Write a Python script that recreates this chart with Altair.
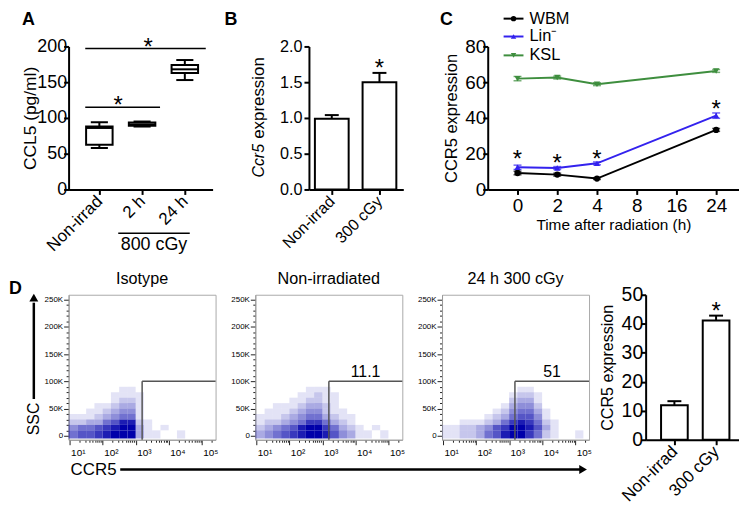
import json
import altair as alt
import pandas as pd

FONT = "Liberation Sans"

# ---------------- Panel A : CCL5 box plots ----------------
a_cats = ["Non-irrad", "2 h", "24 h"]
a_min = [58, 88, 153]
a_q1 = [62.5, 89, 163]
a_med = [86, 91, 168]
a_q3 = [88, 93.5, 174]
a_max = [94, 95, 181]
a_sig_start = [-0.33, -0.33]
a_sig_end = [1.42, 2.49]
a_sig_y = [115, 197]
a_star_x = [0.44, 1.14]
a_star_y = [126, 207]
a_group_label = "800 cGy"

# ---------------- Panel B : Ccr5 expression ----------------
b_cats = ["Non-irrad", "300 cGy"]
b_mean = [0.99, 1.50]
b_sem = [0.05, 0.13]
b_star_x = [1]
b_star_y = [1.78]

# ---------------- Panel C : CCR5 time course ----------------
c_time_labels = ["0", "2", "4", "8", "16", "24"]
c_time_idx = [0, 1, 2, 5]
c_series = ["WBM", "Lin⁻", "KSL"]
c_wbm = [9.2, 8.3, 6.1, 33.3]
c_wbm_err = [1.0, 0.8, 0.5, 0.8]
c_lin = [12.4, 12.0, 14.6, 41.3]
c_lin_err = [1.2, 0.8, 0.8, 1.5]
c_ksl = [62.0, 62.6, 58.9, 66.3]
c_ksl_err = [1.2, 0.8, 0.8, 0.8]
c_star_x = [0, 1, 2, 5]
c_star_y = [20.3, 18.0, 20.3, 48.1]
c_colors = ["#000000", "#3322ee", "#3e8e3e"]
c_shapes = ["circle", "triangle-up", "triangle-down"]

# ---------------- Panel D : flow plots (density read per cell, rows 90-100K ... 0-10K,
#                  columns 0.25-decade bins from 10^1) ----------------
flow_titles = ["Isotype", "Non-irradiated", "24 h 300 cGy"]
flow_gate = [1570, 1570, 1500]
flow_gate_label = ["", "11.1", "51"]
flow_iso = [
    "000000000000000000",
    "000000110000000000",
    "000001111000000000",
    "000001221000000000",
    "000112331000000000",
    "001123441000000000",
    "111234551000000000",
    "223356882100000000",
    "455678993101000000",
    "566789993110010000",
]
flow_non = [
    "000000000000000000",
    "000000111000000000",
    "000001121100000000",
    "000011221100000000",
    "001112332100000000",
    "011123442110000000",
    "111234553211000000",
    "122345775321000000",
    "234568997532101000",
    "345678998643110100",
]
flow_irr = [
    "000000000000000000",
    "000000000110000000",
    "000000001221000000",
    "000000002331000000",
    "000000013442000000",
    "000000124553100000",
    "000001235664100000",
    "001112357875210000",
    "112234679986310000",
    "112235689975210010",
]
flow_density = [flow_iso, flow_non, flow_irr]
flow_x_ticks = [m * 10 ** k for k in range(1, 6) for m in range(1, 10) if m * 10 ** k <= 200000]
flow_y_ticks = list(range(0, 250001, 10000))

# ---------------- Panel D right : CCR5 bars ----------------
d_cats = ["Non-irrad", "300 cGy"]
d_mean = [11.9, 41.1]
d_sem = [1.4, 1.7]
d_star_x = [1]
d_star_y = [46.3]

one = pd.DataFrame({"k": [0]})


def axis(**kw):
    base = dict(domainColor="black", domainWidth=2, tickColor="black", tickWidth=2, tickSize=5,
                labelFont=FONT, titleFont=FONT, labelColor="black", titleColor="black",
                titleFontWeight="normal", grid=False, labelOverlap=False, labelFlush=False)
    base.update(kw)
    return alt.Axis(**base)


def note(text, x, y, size=16, **kw):
    return alt.Chart(one).mark_text(text=text, font=FONT, fontSize=size, color="black", **kw).encode(
        x=alt.value(x), y=alt.value(y))


def letter(t, x, y):
    return note(t, x, y, 18, fontWeight="bold", align="left", baseline="top")


def pline(x1, x2, y, w=1.5):
    return alt.Chart(one).mark_rule(color="black", strokeWidth=w).encode(
        x=alt.value(x1), x2=alt.value(x2), y=alt.value(y))


def anchor(x, y):
    # invisible layout anchor (defines the block's outer edge)
    return alt.Chart(one).mark_point(size=1, filled=True, strokeWidth=0, opacity=0).encode(
        x=alt.value(x), y=alt.value(y))


# ================= Panel A =================
dfA = pd.DataFrame({"idx": list(range(len(a_cats))), "lo": a_min, "q1": a_q1,
                    "med": a_med, "q3": a_q3, "hi": a_max})
xsA = alt.Scale(domain=[-0.72, 2.65], nice=False, zero=False)
ysA = alt.Scale(domain=[0, 200], nice=False)
axAx = axis(values=[0, 1, 2], labelExpr=f"{json.dumps(a_cats)}[datum.value]", labelAngle=-45,
            labelAlign="right", labelBaseline="middle", labelFontSize=17, labelPadding=4, title=None)
axAy = axis(values=[0, 50, 100, 150, 200], labelFontSize=18, labelPadding=-3,
            title="CCL5 (pg/ml)", titleFontSize=17.5, titleX=-29)


def XA(f):
    return alt.X(f"{f}:Q", scale=xsA, axis=axAx)


def YA(f):
    return alt.Y(f"{f}:Q", scale=ysA, axis=axAy)


baseA = alt.Chart(dfA).transform_calculate(
    bl="datum.idx-0.31", br="datum.idx+0.31", cl="datum.idx-0.2", cr="datum.idx+0.2")
whisk = baseA.mark_rule(color="black", strokeWidth=2).encode(x=XA("idx"), y=YA("lo"), y2="hi:Q")
capLo = baseA.mark_rule(color="black", strokeWidth=2).encode(x=XA("cl"), x2="cr:Q", y=YA("lo"))
capHi = baseA.mark_rule(color="black", strokeWidth=2).encode(x=XA("cl"), x2="cr:Q", y=YA("hi"))
boxA = baseA.mark_rect(fill="white", stroke="black", strokeWidth=2).encode(
    x=XA("bl"), x2="br:Q", y=YA("q1"), y2="q3:Q")
medA = baseA.mark_rule(color="black", strokeWidth=2).encode(x=XA("bl"), x2="br:Q", y=YA("med"))
sigA = alt.Chart(pd.DataFrame({"s": a_sig_start, "e": a_sig_end, "y": a_sig_y})).mark_rule(
    color="black", strokeWidth=1.5).encode(x=XA("s"), x2="e:Q", y=YA("y"))
starA = alt.Chart(pd.DataFrame({"x": a_star_x, "y": a_star_y})).mark_text(
    text="*", font=FONT, fontSize=24, color="black", baseline="alphabetic", dy=14).encode(
    x=XA("x"), y=YA("y"))
panelA = alt.layer(
    whisk, capLo, capHi, boxA, medA, sigA, starA,
    letter("A", -47, -36),
    pline(50, 122, 188),
    note(a_group_label, 86, 191, 18, baseline="top"),
    anchor(-47, -36), anchor(-47, 221),
).properties(width=145, height=144)

# ================= Panel B =================
dfB = pd.DataFrame({"idx": list(range(len(b_cats))), "mean": b_mean, "sem": b_sem})
xsB = alt.Scale(domain=[-0.479, 1.5], nice=False, zero=False)
ysB = alt.Scale(domain=[0, 2], nice=False)
axBx = axis(values=[0, 1], labelExpr=f"{json.dumps(b_cats)}[datum.value]", labelAngle=-45,
            labelAlign="right", labelBaseline="middle", labelFontSize=16, labelPadding=4, title=None)
axBy = axis(values=[0, 0.5, 1, 1.5, 2], format=".1f", labelFontSize=16.3, labelPadding=2, title=None)


def XB(f):
    return alt.X(f"{f}:Q", scale=xsB, axis=axBx)


def YB(f):
    return alt.Y(f"{f}:Q", scale=ysB, axis=axBy)


baseB = alt.Chart(dfB).transform_calculate(
    l="datum.idx-0.354", r="datum.idx+0.354", cl="datum.idx-0.146", cr="datum.idx+0.146",
    top="datum.mean+datum.sem", zero="0")
panelB = alt.layer(
    baseB.mark_rule(color="black", strokeWidth=2).encode(x=XB("idx"), y=YB("mean"), y2="top:Q"),
    baseB.mark_rule(color="black", strokeWidth=2).encode(x=XB("cl"), x2="cr:Q", y=YB("top")),
    baseB.mark_rect(fill="white", stroke="black", strokeWidth=2).encode(
        x=XB("l"), x2="r:Q", y=YB("zero"), y2="mean:Q"),
    alt.Chart(pd.DataFrame({"x": b_star_x, "y": b_star_y})).mark_text(
        text="*", font=FONT, fontSize=24, color="black", baseline="alphabetic", dy=14).encode(
        x=XB("x"), y=YB("y")),
    note("Ccr5", -50, 132, 16, angle=270, align="left", baseline="middle", fontStyle="italic"),
    note("expression", -50, 93, 17, angle=270, align="left", baseline="middle"),
    letter("B", -85, -36),
).properties(width=95, height=144)

# ================= Panel C =================
rows = []
for name, vals, errs in zip(c_series, [c_wbm, c_lin, c_ksl], [c_wbm_err, c_lin_err, c_ksl_err]):
    for i, v, e in zip(c_time_idx, vals, errs):
        rows.append({"series": name, "idx": i, "val": v, "err": e})
dfC = pd.DataFrame(rows)
xsC = alt.Scale(domain=[-0.75, 5.575], nice=False, zero=False)
ysC = alt.Scale(domain=[0, 80], nice=False)
axCx = axis(values=list(range(len(c_time_labels))), labelExpr=f"{json.dumps(c_time_labels)}[datum.value]",
            labelFontSize=19, labelPadding=2, title="Time after radiation (h)", titleFontSize=15.5,
            titlePadding=2)
axCy = axis(values=[0, 20, 40, 60, 80], labelFontSize=19, labelPadding=-3,
            title="CCR5 expression", titleFontSize=16.6, titleX=-28)


def XC(f):
    return alt.X(f"{f}:Q", scale=xsC, axis=axCx)


def YC(f):
    return alt.Y(f"{f}:Q", scale=ysC, axis=axCy)


colC = alt.Color("series:N", scale=alt.Scale(domain=c_series, range=c_colors), legend=None)
shpC = alt.Shape("series:N", scale=alt.Scale(domain=c_series, range=c_shapes), legend=None)
baseC = alt.Chart(dfC).transform_calculate(lo="datum.val-datum.err", hi="datum.val+datum.err")
layersC = [
    baseC.mark_line(strokeWidth=2).encode(x=XC("idx"), y=YC("val"), color=colC),
    baseC.mark_rule(strokeWidth=1.5).encode(x=XC("idx"), y=YC("lo"), y2="hi:Q", color=colC),
    baseC.mark_tick(orient="horizontal", size=8, thickness=1.5).encode(x=XC("idx"), y=YC("hi"), color=colC),
    baseC.mark_tick(orient="horizontal", size=8, thickness=1.5).encode(x=XC("idx"), y=YC("lo"), color=colC),
    baseC.mark_point(filled=True, size=40, opacity=1).encode(x=XC("idx"), y=YC("val"), color=colC, shape=shpC),
    alt.Chart(pd.DataFrame({"x": c_star_x, "y": c_star_y})).mark_text(
        text="*", font=FONT, fontSize=24, color="black", baseline="alphabetic", dy=14).encode(
        x=XC("x"), y=YC("y")),
    letter("C", -48, -36),
]
c_leg_y = [-28, -10, 9]
for i, (name, col, shp) in enumerate(zip(c_series, c_colors, c_shapes)):
    yy = c_leg_y[i]
    layersC.append(alt.Chart(one).mark_rule(color=col, strokeWidth=2).encode(
        x=alt.value(16), x2=alt.value(36), y=alt.value(yy)))
    layersC.append(alt.Chart(one).mark_point(shape=shp, filled=True, color=col, size=30, opacity=1).encode(
        x=alt.value(26), y=alt.value(yy)))
    layersC.append(note(name, 42, yy, 16.5, align="left", baseline="middle"))
panelC = alt.layer(*layersC).properties(width=253, height=144)

# ================= Panel D flow plots =================
flow_x_dom = [9.3, 263000]
flow_y_dom = [-7300, 259100]
sup = {10: "10¹", 100: "10²", 1000: "10³", 10000: "10⁴", 100000: "10⁵"}
x_label_expr = "".join(f"datum.value=={k}?'{v}':" for k, v in sup.items()) + "''"
axFx = alt.Axis(values=flow_x_ticks, labelExpr=x_label_expr,
                tickSize={"condition": {"test": "indexof([10,100,1000,10000,100000], datum.value) >= 0",
                                        "value": 5}, "value": 2.5},
                tickColor="#222222", tickWidth=1, domainColor="#999999", domainWidth=1,
                labelFont=FONT, labelFontSize=10, labelColor="black", labelAlign="left", labelOffset=1,
                labelPadding=3, title=None, grid=False, labelOverlap=False, labelFlush=False)
axFy = alt.Axis(values=flow_y_ticks,
                labelExpr="datum.value % 50000 == 0 ? (datum.value == 0 ? '0' : (datum.value/1000) + 'K') : ''",
                tickSize={"condition": {"test": "datum.value % 50000 == 0", "value": 5}, "value": 2.5},
                tickColor="#222222", tickWidth=1, domainColor="#999999", domainWidth=1,
                labelFont=FONT, labelFontSize=8, labelColor="black", labelPadding=1,
                title=None, grid=False, labelOverlap=False, labelFlush=False)


def XF(f):
    return alt.X(f"{f}:Q", scale=alt.Scale(type="log", domain=flow_x_dom, nice=False), axis=axFx)


def YF(f):
    return alt.Y(f"{f}:Q", scale=alt.Scale(domain=flow_y_dom, nice=False, zero=False), axis=axFy)


def flow_panel(k, extra=()):
    cells = []
    grid = flow_density[k]
    nrow = len(grid)
    for r, s in enumerate(grid):
        ylo = (nrow - 1 - r) * 10000
        for b, ch in enumerate(s):
            d = int(ch)
            if d:
                cells.append({
                    "x0": flow_x_dom[0] if b == 0 else 10 ** (1 + 0.25 * b),
                    "x1": 10 ** (1.25 + 0.25 * b),
                    "y0": ylo if ylo > 0 else -5000,
                    "y1": ylo + 10000,
                    "d": d,
                })
    dfc = pd.DataFrame(cells)
    dens = alt.Chart(dfc).mark_rect(color="#0000aa", strokeWidth=0).encode(
        x=XF("x0"), x2="x1:Q", y=YF("y0"), y2="y1:Q",
        opacity=alt.Opacity("d:Q", scale=alt.Scale(domain=[0, 9], range=[0, 1]), legend=None))
    dfg = pd.DataFrame({"g": [flow_gate[k]], "top": [100000], "bottom": [flow_y_dom[0]],
                        "right": [flow_x_dom[1]], "label": [flow_gate_label[k]]})
    gv = alt.Chart(dfg).mark_rule(color="#555555", strokeWidth=1.5).encode(
        x=XF("g"), y=YF("bottom"), y2="top:Q")
    gh = alt.Chart(dfg).mark_rule(color="#555555", strokeWidth=1.5).encode(
        x=XF("g"), x2="right:Q", y=YF("top"))
    lab = alt.Chart(dfg).transform_calculate(mid="sqrt(datum.g*datum.right)").mark_text(
        font=FONT, fontSize=16, color="black", baseline="bottom", dy=-1).encode(
        x=XF("mid"), y=YF("top"), text="label:N")
    ttl = note(flow_titles[k], 74, -8, 16.3, align="center", baseline="bottom")
    return alt.layer(dens, gv, gh, lab, ttl, *extra).properties(
        width=148, height=146,
        view=alt.ViewBackground(stroke="#aaaaaa", strokeWidth=1))


d1_extra = [
    letter("D", -60, -15),
    alt.Chart(one).mark_rule(color="black", strokeWidth=2.5).encode(
        x=alt.value(-35), y=alt.value(105), y2=alt.value(8)),
    alt.Chart(one).mark_point(shape="triangle-up", filled=True, color="black", size=80, opacity=1).encode(
        x=alt.value(-35), y=alt.value(3)),
    note("SSC", -35, 125, 16, angle=270, align="center", baseline="middle"),
    note("CCR5", 2, 176, 17, align="left", baseline="middle"),
    alt.Chart(one).mark_rule(color="black", strokeWidth=2.5).encode(
        x=alt.value(52), x2=alt.value(515), y=alt.value(176)),
    alt.Chart(one).mark_point(shape="triangle-right", filled=True, color="black", size=80, opacity=1).encode(
        x=alt.value(518), y=alt.value(176)),
    anchor(-60, -27),
]
D1 = flow_panel(0, d1_extra)
D2 = flow_panel(1)
D3 = flow_panel(2)

# ================= Panel D bars =================
dfD = pd.DataFrame({"idx": list(range(len(d_cats))), "mean": d_mean, "sem": d_sem})
xsD = alt.Scale(domain=[-0.69, 1.55], nice=False, zero=False)
ysD = alt.Scale(domain=[0, 50], nice=False)
axDx = axis(values=[0, 1], labelExpr=f"{json.dumps(d_cats)}[datum.value]", labelAngle=-45,
            labelAlign="right", labelBaseline="middle", labelFontSize=17, labelPadding=4, title=None)
axDy = axis(values=[0, 10, 20, 30, 40, 50], labelFontSize=19.5, labelPadding=-2,
            title="CCR5 expression", titleFontSize=16.2, titleX=-30)


def XD(f):
    return alt.X(f"{f}:Q", scale=xsD, axis=axDx)


def YD(f):
    return alt.Y(f"{f}:Q", scale=ysD, axis=axDy)


baseD = alt.Chart(dfD).transform_calculate(
    l="datum.idx-0.32", r="datum.idx+0.32", cl="datum.idx-0.167", cr="datum.idx+0.167",
    top="datum.mean+datum.sem", zero="0")
D4 = alt.layer(
    baseD.mark_rule(color="black", strokeWidth=2).encode(x=XD("idx"), y=YD("mean"), y2="top:Q"),
    baseD.mark_rule(color="black", strokeWidth=2).encode(x=XD("cl"), x2="cr:Q", y=YD("top")),
    baseD.mark_rect(fill="white", stroke="black", strokeWidth=2).encode(
        x=XD("l"), x2="r:Q", y=YD("zero"), y2="mean:Q"),
    alt.Chart(pd.DataFrame({"x": d_star_x, "y": d_star_y})).mark_text(
        text="*", font=FONT, fontSize=24, color="black", baseline="alphabetic", dy=14).encode(
        x=XD("x"), y=YD("y")),
).properties(width=94, height=146)


def spacer(w):
    return alt.Chart(one).mark_point(size=1, filled=True, strokeWidth=0, opacity=0).encode(
        x=alt.value(0), y=alt.value(0)).properties(width=w, height=1)


row1 = alt.hconcat(panelA, spacer(97), panelB, spacer(85), panelC, spacing=0, bounds="flush")
row2 = alt.hconcat(D1, spacer(40), D2, spacer(40), D3, spacer(57), D4, spacing=0, bounds="flush")
chart = alt.vconcat(row1, row2, spacing=0).properties(padding=0).configure(
    font=FONT).configure_view(stroke=None)

chart.save("out.html", embed_options={"renderer": "svg", "actions": False})
